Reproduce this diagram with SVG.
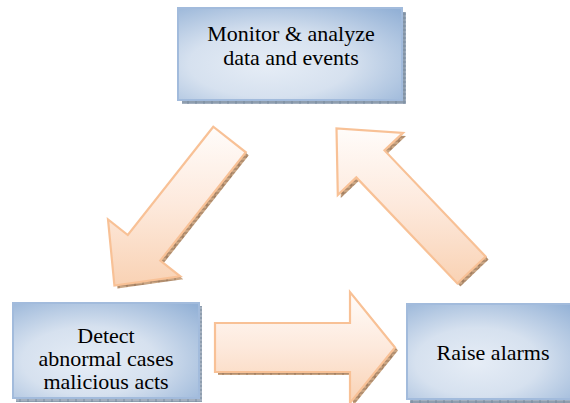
<svg xmlns="http://www.w3.org/2000/svg" width="570" height="403" viewBox="0 0 570 403">
  <defs>
    <radialGradient id="boxFill" cx="0.42" cy="0.6" r="0.8" fx="0.4" fy="0.62">
      <stop offset="0" stop-color="#e6edf6"/>
      <stop offset="0.45" stop-color="#d6e1ef"/>
      <stop offset="1" stop-color="#93b1d6"/>
    </radialGradient>
    <linearGradient id="arrowFill" x1="0" y1="0" x2="0" y2="1">
      <stop offset="0" stop-color="#fffcfa"/>
      <stop offset="0.5" stop-color="#fde9dc"/>
      <stop offset="1" stop-color="#f9d2b4"/>
    </linearGradient>
    <pattern id="boxShade" width="8" height="4" patternUnits="userSpaceOnUse">
      <rect width="8" height="4" fill="#a4b0bf"/>
      <path d="M0 2H8M4 0V4" stroke="#6f8196" stroke-width="0.8"/>
    </pattern>
    <pattern id="arrowShade" width="8" height="4" patternUnits="userSpaceOnUse">
      <rect width="8" height="4" fill="#c9a583"/>
      <path d="M0 2H8M4 0V4" stroke="#8e6c50" stroke-width="0.8"/>
    </pattern>
    <style>
      .box { fill: url(#boxFill); stroke: #a2bbdc; stroke-width: 2; }
      .boxShadow { fill: url(#boxShade); }
      .arrow { fill: url(#arrowFill); stroke: #f8c196; stroke-width: 2.2; stroke-linejoin: miter; }
      .arrowShadow { fill: url(#arrowShade); }
      .label { font-family: "Liberation Serif", "Times New Roman", serif; font-size: 22px; fill: #000; text-anchor: middle; }
    </style>
  </defs>

  <rect width="570" height="403" fill="#ffffff"/>

  <!-- connectors: block arrows forming the cycle -->
  <g id="connectors">
    <g id="arrow-monitor-to-detect">
      <polygon class="arrowShadow" transform="translate(3,3)" points="213.3,126.7 127.8,235 108,219.4 114.4,285.5 180.2,276.3 160.3,260.6 245.8,152.3"/>
      <polygon class="arrow" points="213.3,126.7 127.8,235 108,219.4 114.4,285.5 180.2,276.3 160.3,260.6 245.8,152.3"/>
    </g>
    <g id="arrow-detect-to-raise">
      <polygon class="arrowShadow" transform="translate(3,3)" points="215,323 350,323 350,292 395,347.5 350,403 350,372 215,372"/>
      <polygon class="arrow" points="215,323 350,323 350,292 395,347.5 350,403 350,372 215,372"/>
    </g>
    <g id="arrow-raise-to-monitor">
      <polygon class="arrowShadow" transform="translate(3,3)" points="485.6,256.5 384.5,150.4 403,132.9 336.5,128.4 337.8,195 356.3,177.4 457.4,283.5"/>
      <polygon class="arrow" points="485.6,256.5 384.5,150.4 403,132.9 336.5,128.4 337.8,195 356.3,177.4 457.4,283.5"/>
    </g>
  </g>

  <!-- process steps -->
  <g id="node-monitor">
    <rect class="boxShadow" x="182" y="12" width="224" height="92"/>
    <rect class="box" x="178" y="8" width="224" height="92"/>
    <text class="label" x="291" y="41">Monitor &amp; analyze</text>
    <text class="label" x="291" y="65">data and events</text>
  </g>

  <g id="node-detect">
    <rect class="boxShadow" x="16" y="306" width="186" height="96"/>
    <rect class="box" x="13" y="303" width="186" height="95"/>
    <text class="label" x="106" y="343">Detect</text>
    <text class="label" x="106" y="366">abnormal cases</text>
    <text class="label" x="106" y="389">malicious acts</text>
  </g>

  <g id="node-raise">
    <rect class="boxShadow" x="410" y="307" width="172" height="96"/>
    <rect class="box" x="407" y="304" width="172" height="95"/>
    <text class="label" x="493" y="360">Raise alarms</text>
  </g>
</svg>
